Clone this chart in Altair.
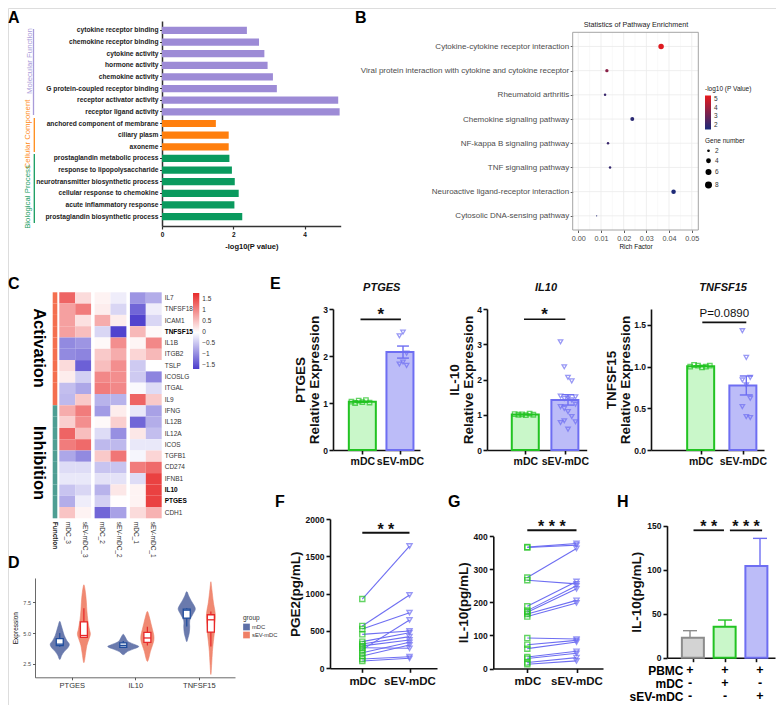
import json
import altair as alt
import pandas as pd

FONT = "Liberation Sans"
O = 8
W, H = 768, 697

# ---------------- data ----------------
# A: GO enrichment
go_terms = ["cytokine receptor binding", "chemokine receptor binding", "cytokine activity",
            "hormone activity", "chemokine activity", "G protein-coupled receptor binding",
            "receptor activator activity", "receptor ligand activity",
            "anchored component of membrane", "ciliary plasm", "axoneme",
            "prostaglandin metabolic process", "response to lipopolysaccharide",
            "neurotransmitter biosynthetic process", "cellular response to chemokine",
            "acute inflammatory response", "prostaglandin biosynthetic process"]
go_values = [2.38, 2.72, 2.87, 2.96, 3.11, 3.22, 4.94, 4.98,
             1.51, 1.87, 1.87,
             1.89, 1.96, 2.04, 2.15, 2.03, 2.25]
go_groups = ["Molecular Function"] * 8 + ["Cellular Component"] * 3 + ["Biological Process"] * 6
go_group_names = ["Molecular Function", "Cellular Component", "Biological Process"]
go_group_colors = ["#9d8bd6", "#ff7f0e", "#0a9a5e"]

# B: KEGG enrichment
kegg_terms = ["Cytokine-cytokine receptor interaction",
              "Viral protein interaction with cytokine and cytokine receptor",
              "Rheumatoid arthritis", "Chemokine signaling pathway",
              "NF-kappa B signaling pathway", "TNF signaling pathway",
              "Neuroactive ligand-receptor interaction", "Cytosolic DNA-sensing pathway"]
kegg_rich = [0.0365, 0.0126, 0.0118, 0.0238, 0.0131, 0.0140, 0.0420, 0.0081]
kegg_logp = [5.2, 3.6, 2.1, 1.8, 2.1, 2.0, 1.6, 1.7]
kegg_genes = [8, 4, 3, 5, 3, 3, 6, 2]
kegg_xticks = [0.0, 0.01, 0.02, 0.03, 0.04, 0.05]
kegg_xminor = [0.005, 0.015, 0.025, 0.035, 0.045]

# C: heatmap
heat_genes = ["IL7", "TNFSF18", "ICAM1", "TNFSF15", "IL1B", "ITGB2", "TSLP", "ICOSLG", "ITGAL", "IL9",
              "IFNG", "IL12B", "IL12A", "ICOS", "TGFB1", "CD274", "IFNB1", "IL10", "PTGES", "CDH1"]
heat_samples = ["mDC_3", "sEV-mDC_3", "mDC_2", "sEV-mDC_2", "mDC_1", "sEV-mDC_1"]
heat_values = [
    [1.3, 0.3, 0.1, -0.15, -0.9, -0.7],
    [0.8, 1.1, 0.15, -0.35, -1.3, -0.15],
    [0.8, 0.25, 0.7, 0.15, -1.6, -0.35],
    [0.8, 0.55, -0.35, -1.6, 0.6, 0.05],
    [-1.0, -0.9, 0.05, 0.95, 0.08, 1.0],
    [-1.0, -1.05, 0.45, 0.7, 0.35, 0.6],
    [0.3, -1.35, 0.55, 0.95, -0.45, 0.0],
    [0.15, -0.4, 1.0, 0.95, -0.45, -1.05],
    [-0.55, -0.75, 1.1, 1.0, -0.05, -0.3],
    [-0.6, 0.45, -0.65, -0.65, 1.3, 0.45],
    [0.7, 1.1, -0.85, 0.15, -0.2, -0.8],
    [0.4, 0.95, 0.05, 0.4, -1.3, -0.7],
    [1.3, 0.55, -0.3, -0.95, 0.2, -0.55],
    [1.1, 1.25, -0.6, -0.6, -0.2, -0.2],
    [-0.75, -1.0, 0.45, 1.15, -0.08, 0.35],
    [-0.3, -0.3, -0.5, -0.5, 1.1, 1.25],
    [-0.2, -0.2, -0.25, -0.25, -0.3, 1.6],
    [-0.5, -0.35, -0.65, 0.2, 0.1, 1.6],
    [-0.7, -0.15, -0.4, 0.02, 0.1, 1.6],
    [0.5, 0.1, -1.3, -0.8, 0.3, 0.65],
]
heat_function = ["Activation"] * 10 + ["Inhibition"] * 10
heat_bold = ["TNFSF15", "IL10", "PTGES"]
heat_legend_ticks = [-1.5, -1, -0.5, 0, 0.5, 1, 1.5]

# D: violins (outline: expression value, half width in category units)
violin_genes = ["PTGES", "IL10", "TNFSF15"]
violin_groups = ["mDC", "sEV-mDC"]
violin_y = {
    ("PTGES", "mDC"): [5.95, 5.6, 5.2, 4.8, 4.4, 4.1, 3.8, 3.5, 3.2, 2.85],
    ("PTGES", "sEV-mDC"): [8.9, 8.3, 7.5, 6.8, 6.0, 5.3, 4.9, 4.5, 4.0, 3.4, 2.6],
    ("IL10", "mDC"): [4.9, 4.6, 4.3, 4.05, 3.9, 3.7, 3.5, 3.25],
    ("IL10", "sEV-mDC"): [6.75, 6.3, 5.8, 5.3, 4.8, 4.4, 4.0, 3.5, 3.0, 2.7],
    ("TNFSF15", "mDC"): [8.35, 8.0, 7.6, 7.2, 6.9, 6.5, 6.0, 5.5, 5.0, 4.6, 4.3],
    ("TNFSF15", "sEV-mDC"): [9.15, 8.5, 7.5, 6.8, 6.3, 5.7, 5.0, 4.3, 3.5, 2.5, 1.65],
}
violin_w = {
    ("PTGES", "mDC"): [0, .024, .047, .071, .110, .150, .126, .071, .031, 0],
    ("PTGES", "sEV-mDC"): [0, .024, .039, .047, .063, .087, .102, .079, .047, .028, 0],
    ("IL10", "mDC"): [0, .039, .079, .189, .244, .157, .063, 0],
    ("IL10", "sEV-mDC"): [0, .031, .055, .079, .102, .102, .079, .047, .024, 0],
    ("TNFSF15", "mDC"): [0, .031, .071, .118, .134, .094, .047, .047, .039, .019, 0],
    ("TNFSF15", "sEV-mDC"): [0, .016, .039, .063, .071, .063, .055, .039, .024, .013, 0],
}
box_gene = ["PTGES", "PTGES", "IL10", "IL10", "TNFSF15", "TNFSF15"]
box_group = ["mDC", "sEV-mDC"] * 3
box_q1 = [3.98, 4.65, 3.85, 4.25, 6.21, 5.08]
box_med = [4.10, 4.80, 4.00, 4.60, 6.85, 6.07]
box_q3 = [4.54, 5.90, 4.20, 5.05, 6.94, 6.48]
box_lo = [3.90, 4.60, 3.80, 4.00, 5.53, 3.92]
box_hi = [5.00, 7.00, 4.35, 5.50, 7.00, 6.74]

# E: qPCR relative expression
E_PTGES_mDC = [1.03, 1.00, 1.05, 1.02, 1.06, 1.01]
E_PTGES_sEV = [2.43, 2.51, 2.06, 1.83, 1.87, 1.80]
E_IL10_mDC = [1.02, 1.00, 1.01, 0.99, 1.03, 1.00]
E_IL10_sEV = [3.07, 2.36, 2.06, 1.96, 1.51, 1.53, 1.46, 1.47, 1.42, 1.30, 1.23, 1.18,
              1.09, 0.95, 0.80, 0.78, 0.83, 0.59]
E_TNFSF15_mDC = [1.00, 1.02, 1.01, 0.99, 1.00, 1.01]
E_TNFSF15_sEV = [1.43, 1.11, 0.87, 0.84, 0.78, 0.62, 0.52, 0.40, 0.39]

# F: PGE2 paired
F_mDC = [928, 567, 527, 455, 357, 326, 300, 276, 250, 209, 165, 125, 98]
F_sEV = [1638, 982, 745, 500, 477, 424, 379, 268, 647, 348, 312, 155, 134]
# G: IL-10 paired
G_mDC = [367, 366, 275, 267, 188, 175, 170, 165, 157, 92, 72, 60, 35, 30, 18, 13]
G_sEV = [378, 373, 363, 256, 263, 250, 241, 206, 198, 89, 85, 80, 52, 46, 33, 23]
# H: co-culture
H_means = [22.7, 35.2, 104.2]
H_errors = [8.0, 7.6, 31.4]
H_table_rows = ["PBMC", "mDC", "sEV-mDC"]
H_table = [["+", "+", "+"], ["-", "+", "-"], ["-", "-", "+"]]

# ---------------- helpers ----------------
def rng(a, b):
    return [a - O, b - O]

def off_l(x):
    return -(x - O)

def off_b(y):
    return (y - O) - H

def off_r(x):
    return (x - O) - W

def pv(v):
    return v - O

def label(text, x, y, size, weight="normal", color="#000000", angle=0, align="center",
          baseline="middle", style="normal"):
    return alt.Chart(pd.DataFrame({"t": [text]})).mark_text(
        font=FONT, fontSize=size, fontWeight=weight, color=color, angle=angle,
        align=align, baseline=baseline, fontStyle=style,
    ).encode(x=alt.value(pv(x)), y=alt.value(pv(y)), text="t:N")

def vrule(x, y1, y2, color, width=1.5):
    return alt.Chart(pd.DataFrame({"a": [0]})).mark_rule(color=color, strokeWidth=width).encode(
        x=alt.value(pv(x)), y=alt.value(pv(y1)), y2=alt.value(pv(y2)))

def gp_axis(**kw):
    base = dict(domainColor="#111111", domainWidth=1.6, tickColor="#111111", tickWidth=1.6,
                tickSize=4, labelFont=FONT, labelFontWeight="bold", labelColor="#111111",
                titleFont=FONT, titleFontWeight="bold", titleColor="#111111", grid=False,
                labelOverlap=False, labelFlush=False)
    base.update(kw)
    return alt.Axis(**base)

def gg_axis(**kw):
    base = dict(domain=False, tickColor="#333333", tickWidth=0.8, tickSize=2.5, labelFont=FONT,
                labelColor="#4d4d4d", titleFont=FONT, titleFontWeight="normal", titleColor="#111111",
                grid=False, labelOverlap=False, labelFlush=False)
    base.update(kw)
    return alt.Axis(**base)

layers = []

# ---------------- panel letters ----------------
for letter, x, y in [("A", 8, 23), ("B", 355, 23), ("C", 8, 289), ("D", 8, 568),
                     ("E", 270, 289), ("F", 275, 507), ("G", 448, 507), ("H", 617, 507)]:
    layers.append(label(letter, x, y, 16, "bold", align="left", baseline="alphabetic"))

# ---------------- A ----------------
dfA = pd.DataFrame({"term": go_terms, "value": go_values, "group": go_groups})
sxA = alt.Scale(domain=[0, 5.01], range=rng(162, 340.7), nice=False)
syA = alt.Scale(domain=go_terms, range=rng(21, 226), paddingInner=0.38, paddingOuter=0.5)
layers.append(alt.Chart(dfA).mark_bar().encode(
    x=alt.X("value:Q", scale=sxA, axis=gp_axis(orient="bottom", offset=off_b(226), values=[0, 2, 4],
                                                title="-log10(P value)", labelFontSize=6.5,
                                                titleFontSize=7.5, tickSize=3, domainWidth=1.5,
                                                tickWidth=1.2, titlePadding=5, labelPadding=2,
                                                domainColor="#333333", tickColor="#333333")),
    y=alt.Y("term:N", sort=None, scale=syA,
            axis=gp_axis(orient="left", offset=off_l(162), title=None, labelFontSize=6.7, tickSize=2.5,
                         domainWidth=1.5, tickWidth=1, labelPadding=1.5, labelColor="#222222",
                         domainColor="#333333", tickColor="#333333")),
    color=alt.Color("group:N", scale=alt.Scale(domain=go_group_names, range=go_group_colors), legend=None),
))
layers.append(vrule(33.5, 29, 115, "#a99bd9", 1.3))
layers.append(vrule(34.3, 118, 152, "#ff8c1a", 1.3))
layers.append(vrule(34.3, 154, 223, "#169c5f", 1.3))
layers.append(label("Molecular Function", 29.5, 61, 7.8, color="#a99bd9", angle=270))
layers.append(label("Cellular Component", 28, 134, 7.8, color="#ff8c1a", angle=270))
layers.append(label("Biological Process", 28, 197, 7.8, color="#169c5f", angle=270))

# ---------------- B ----------------
nB = len(kegg_terms)
dfB = pd.DataFrame({"term": kegg_terms, "idx": list(range(nB)), "rich": kegg_rich,
                    "logp": kegg_logp, "genes": kegg_genes})
xB_dom = [-0.00247, 0.0529]
yB_dom = [-0.585, nB - 1 + 0.585]
sxB = alt.Scale(domain=xB_dom, range=rng(572.7, 698.3), nice=False, zero=False)
syB = alt.Scale(domain=yB_dom, range=rng(32.3, 230), nice=False, zero=False)
exprB = "[" + ",".join("'%s'" % t for t in kegg_terms) + "][datum.value]"

layers.append(alt.Chart(pd.DataFrame({"v": kegg_xminor})).mark_rule(color="#f2f2f2", strokeWidth=0.5).encode(
    x=alt.X("v:Q", scale=sxB, axis=None),
    y=alt.YDatum(yB_dom[0], type="quantitative", scale=syB, axis=None),
    y2=alt.Y2Datum(yB_dom[1])))
layers.append(alt.Chart(pd.DataFrame({"v": kegg_xticks})).mark_rule(color="#ebebeb", strokeWidth=0.8).encode(
    x=alt.X("v:Q", scale=sxB, axis=None),
    y=alt.YDatum(yB_dom[0], type="quantitative", scale=syB, axis=None),
    y2=alt.Y2Datum(yB_dom[1])))
layers.append(alt.Chart(pd.DataFrame({"v": list(range(nB))})).mark_rule(color="#ebebeb", strokeWidth=0.8).encode(
    y=alt.Y("v:Q", scale=syB, axis=None),
    x=alt.XDatum(xB_dom[0], type="quantitative", scale=sxB, axis=None),
    x2=alt.X2Datum(xB_dom[1])))
layers.append(alt.Chart(pd.DataFrame({"a": [0]})).mark_rect(fillOpacity=0, stroke="#9a9a9a", strokeWidth=0.9).encode(
    x=alt.XDatum(xB_dom[0], type="quantitative", scale=sxB, axis=None),
    x2=alt.X2Datum(xB_dom[1]),
    y=alt.YDatum(yB_dom[0], type="quantitative", scale=syB, axis=None),
    y2=alt.Y2Datum(yB_dom[1])))
layers.append(alt.Chart(dfB).mark_circle(opacity=1).encode(
    x=alt.X("rich:Q", scale=sxB, axis=gg_axis(orient="bottom", offset=off_b(230), values=kegg_xticks,
                                              format=".2f", title="Rich Factor", labelFontSize=7.2,
                                              titleFontSize=6.5, titlePadding=2, labelPadding=1.5)),
    y=alt.Y("idx:Q", scale=syB, axis=gg_axis(orient="left", offset=off_l(572.7), values=list(range(nB)),
                                             labelExpr=exprB, title=None, labelFontSize=8,
                                             labelPadding=1.5, labelLimit=400)),
    color=alt.Color("logp:Q", scale=alt.Scale(domain=[1.52, 5.38], range=["#1b2a7a", "#e8191c"],
                                              interpolate="rgb"),
                    legend=alt.Legend(title="-log10 (P Value)", orient="none", legendX=pv(705),
                                      legendY=pv(86), direction="vertical", gradientLength=34,
                                      gradientThickness=6, values=[2, 3, 4, 5], titleFont=FONT,
                                      labelFont=FONT, titleFontSize=6.5, labelFontSize=6.5,
                                      titleFontWeight="normal", titleColor="#222222",
                                      labelColor="#333333", titlePadding=3, labelOffset=3,
                                      gradientStrokeWidth=0)),
    size=alt.Size("genes:Q", scale=alt.Scale(domain=[2, 8], range=[1.5, 30], zero=False),
                  legend=alt.Legend(title="Gene number", orient="none", legendX=pv(705), legendY=pv(138),
                                    values=[2, 4, 6, 8], symbolFillColor="black", symbolStrokeColor="black",
                                    symbolType="circle", titleFont=FONT, labelFont=FONT, titleFontSize=6.5,
                                    labelFontSize=6.5, titleFontWeight="normal", titleColor="#222222",
                                    labelColor="#333333", rowPadding=1, titlePadding=3, labelOffset=3)),
))
layers.append(label("Statistics of Pathway Enrichment", 636, 25, 7.2, color="#222222"))

# ---------------- C ----------------
rowsC = []
for gi, g in enumerate(heat_genes):
    for si, s in enumerate(heat_samples):
        cond, pair = s.rsplit("_", 1)
        rowsC.append({"gene": g, "sample": s, "pair": pair, "cond": cond, "z": heat_values[gi][si]})
dfC = pd.DataFrame(rowsC)
syC = alt.Scale(domain=heat_genes, range=rng(292.3, 518.3), paddingInner=0, paddingOuter=0)
bold_test = "indexof(%s, datum.value) >= 0" % json.dumps(heat_bold)
layers.append(alt.Chart(dfC).mark_rect().encode(
    x=alt.X("pair:N", sort=None, scale=alt.Scale(domain=["3", "2", "1"], range=rng(59.3, 161.7),
                                                 paddingInner=0.1, paddingOuter=0), axis=None),
    xOffset=alt.XOffset("cond:N", sort=None, scale=alt.Scale(domain=["mDC", "sEV-mDC"],
                                                             paddingInner=0, paddingOuter=0)),
    y=alt.Y("gene:N", sort=None, scale=syC,
            axis=alt.Axis(orient="right", offset=off_r(161.7), domain=False, ticks=False, title=None,
                          labelFont=FONT, labelFontSize=6.5, labelPadding=2.5,
                          labelFontWeight={"condition": {"test": bold_test, "value": "bold"}, "value": "normal"},
                          labelColor={"condition": {"test": bold_test, "value": "#000000"}, "value": "#333333"})),
    color=alt.Color("z:Q", scale=alt.Scale(domain=[-1.66, 0, 1.79], range=["#4a3ccc", "#ffffff", "#e82a2a"],
                                           interpolate="rgb"),
                    legend=alt.Legend(title=None, orient="none", legendX=pv(193), legendY=pv(293),
                                      direction="vertical", gradientLength=76, gradientThickness=6.3,
                                      values=heat_legend_ticks, labelFont=FONT, labelFontSize=6.5,
                                      labelColor="#333333", labelOffset=3, gradientStrokeWidth=0,
                                      labelExpr="datum.value < 0 ? '\u2212' + format(-datum.value, '~g') : format(datum.value, '~g')")),
))
layers.append(alt.Chart(pd.DataFrame({"s": heat_samples})).mark_rule(opacity=0).encode(
    x=alt.X("s:N", sort=None, scale=alt.Scale(domain=heat_samples, range=rng(59.3, 161.7),
                                              paddingInner=0, paddingOuter=0),
            axis=alt.Axis(orient="bottom", offset=off_b(518.3), labelAngle=90, domain=False, ticks=False,
                          title=None, labelFont=FONT, labelFontSize=6.5, labelColor="#333333",
                          labelPadding=3))))
layers.append(alt.Chart(pd.DataFrame({"gene": heat_genes, "fn": heat_function,
                                      "col": ["Function"] * len(heat_genes)})).mark_rect().encode(
    x=alt.X("col:N", scale=alt.Scale(domain=["Function"], range=rng(52.7, 57.3), paddingInner=0,
                                     paddingOuter=0),
            axis=alt.Axis(orient="bottom", offset=off_b(518.3), labelAngle=90, domain=False, ticks=False,
                          title=None, labelFont=FONT, labelFontSize=6.5, labelColor="#222222",
                          labelFontWeight="bold", labelPadding=3)),
    y=alt.Y("gene:N", sort=None, scale=syC, axis=None),
    color=alt.Color("fn:N", scale=alt.Scale(domain=["Activation", "Inhibition"],
                                            range=["#f46f4f", "#4e9e93"]), legend=None),
))
layers.append(label("Activation", 39, 348, 16.5, "bold", angle=90))
layers.append(label("Inhibition", 39, 463, 16.5, "bold", angle=90))

# ---------------- D ----------------
# outline polygon: left side top->bottom, then right side bottom->top (tips shared)
rowsD = []
for (g, grp), ys in violin_y.items():
    ws = violin_w[(g, grp)]
    n = len(ys)
    for i in range(n):
        rowsD.append({"vid": g + "|" + grp, "gene": g, "group": grp, "y": ys[i], "w": ws[i],
                      "side": -1, "ord": i})
    for i in range(n - 2, 0, -1):
        rowsD.append({"vid": g + "|" + grp, "gene": g, "group": grp, "y": ys[i], "w": ws[i],
                      "side": 1, "ord": n + (n - 2 - i)})
dfD = pd.DataFrame(rowsD)
dfBox = pd.DataFrame({"gene": box_gene, "group": box_group, "q1": box_q1, "med": box_med,
                      "q3": box_q3, "lo": box_lo, "hi": box_hi})
D_x0, D_x1 = 35, 235
D_dom = [0.42, 3.57]
sxD = alt.Scale(domain=D_dom, range=rng(D_x0, D_x1), nice=False, zero=False)
syD = alt.Scale(domain=[1.42, 9.45], range=rng(677.3, 578), nice=False, zero=False)
center_expr = "indexof(%s, datum.gene) + 1 + (datum.group == 'mDC' ? -0.19 : 0.19)" % json.dumps(violin_genes)
exprD = "%s[datum.value - 1]" % json.dumps(violin_genes)
vio_fill = alt.Fill("group:N", scale=alt.Scale(domain=violin_groups, range=["#5d6fa6", "#ef7f66"]),
                    legend=alt.Legend(title="group", orient="none", legendX=pv(243), legendY=pv(615),
                                      symbolType="square", symbolSize=45, titleFont=FONT, labelFont=FONT,
                                      titleFontSize=6.5, labelFontSize=5.8, titleFontWeight="normal",
                                      titleColor="#333333", labelColor="#333333", rowPadding=1,
                                      titlePadding=2, labelOffset=2, symbolStrokeWidth=0))
vio_stroke = alt.Stroke("group:N", scale=alt.Scale(domain=violin_groups, range=["#5d6fa6", "#ef7f66"]),
                        legend=None)
layers.append(alt.Chart(dfD).transform_calculate(center=center_expr).transform_calculate(
    xv="datum.center + datum.side * datum.w").mark_line(
    interpolate="cardinal-closed", strokeWidth=0.6, fillOpacity=0.92, strokeOpacity=0.92).encode(
    y=alt.Y("y:Q", scale=syD, axis=gg_axis(orient="left", offset=off_l(D_x0), values=[2.5, 5.0, 7.5],
                                           format=".1f", title="Expression", labelFontSize=5.5,
                                           titleFontSize=6.5, domain=True, domainColor="#444444",
                                           domainWidth=0.8, titlePadding=4)),
    x=alt.X("xv:Q", scale=sxD, axis=gg_axis(orient="bottom", offset=off_b(677.3), values=[1, 2, 3],
                                            labelExpr=exprD, title=None, labelFontSize=7.5,
                                            labelColor="#333333", domain=True, domainColor="#444444",
                                            domainWidth=0.8)),
    order=alt.Order("ord:Q"),
    detail="vid:N",
    fill=vio_fill,
    stroke=vio_stroke,
))
box_base = alt.Chart(dfBox).transform_calculate(center=center_expr).transform_calculate(
    bl="datum.center - 0.055", br="datum.center + 0.055")
box_stroke = alt.Stroke("group:N", scale=alt.Scale(domain=violin_groups, range=["#1f4c9c", "#e8282a"]),
                        legend=None)
layers.append(box_base.mark_rule(strokeWidth=1.2).encode(
    x=alt.X("center:Q", scale=sxD, axis=None), y=alt.Y("hi:Q", scale=syD, axis=None), y2="q3:Q",
    stroke=box_stroke))
layers.append(box_base.mark_rule(strokeWidth=1.2).encode(
    x=alt.X("center:Q", scale=sxD, axis=None), y=alt.Y("lo:Q", scale=syD, axis=None), y2="q1:Q",
    stroke=box_stroke))
layers.append(box_base.mark_rect(fill="white", strokeWidth=1.3).encode(
    x=alt.X("bl:Q", scale=sxD, axis=None), x2="br:Q",
    y=alt.Y("q1:Q", scale=syD, axis=None), y2="q3:Q", stroke=box_stroke))
layers.append(box_base.mark_rule(strokeWidth=1.3).encode(
    x=alt.X("bl:Q", scale=sxD, axis=None), x2="br:Q",
    y=alt.Y("med:Q", scale=syD, axis=None), stroke=box_stroke))

# ---------------- E ----------------
GREEN_FILL, GREEN = "#c9f7c9", "#22c322"
PURP_FILL, PURP = "#bcbcf8", "#6e6ef2"
cond_names = ["mDC", "sEV-mDC"]
xlab_expr = "datum.value == 0 ? 'mDC' : 'sEV-mDC'"

def e_panel(mdc, sev, ax, c0, c1, xend, ymax, yvals, yfmt, ytitle, title, sig_y, sig_x1, sig_x2, sig_text,
            sig_size, sig_weight, k_sev):
    df = pd.DataFrame({"c": [0] * len(mdc) + [1] * len(sev),
                       "g": ["mDC"] * len(mdc) + ["sEV-mDC"] * len(sev),
                       "v": mdc + sev})
    step = c1 - c0
    sx = alt.Scale(domain=[(ax - c0) / step, (xend - c0) / step], range=rng(ax, xend), nice=False, zero=False)
    sy = alt.Scale(domain=[0, ymax], range=rng(450, 309), nice=False)
    fill = alt.Fill("g:N", scale=alt.Scale(domain=cond_names, range=[GREEN_FILL, PURP_FILL]), legend=None)
    strk = alt.Stroke("g:N", scale=alt.Scale(domain=cond_names, range=[GREEN, PURP]), legend=None)
    out = []
    out.append(alt.Chart(df).mark_bar(size=27, strokeWidth=2).encode(
        x=alt.X("c:Q", scale=sx, axis=gp_axis(orient="bottom", offset=off_b(450), values=[0, 1],
                                              labelExpr=xlab_expr, labelFontSize=10.5, title=None,
                                              labelPadding=2)),
        y=alt.Y("mean(v):Q", scale=sy, axis=gp_axis(orient="left", offset=off_l(ax), values=yvals,
                                                    format=yfmt, labelFontSize=8.5, title=ytitle,
                                                    titleFontSize=13.5, titleLineHeight=14,
                                                    titlePadding=1.5, labelPadding=1.5)),
        fill=fill, stroke=strk))
    agg = alt.Chart(df).transform_aggregate(m="mean(v)", se="stderr(v)", groupby=["c", "g"]).transform_calculate(
        lo="datum.m - datum.se", hi="datum.m + datum.se", xl="datum.c - 0.14", xr="datum.c + 0.14")
    out.append(agg.mark_rule(strokeWidth=1.4).encode(
        x=alt.X("c:Q", scale=sx, axis=None), y=alt.Y("lo:Q", scale=sy, axis=None), y2="hi:Q", stroke=strk))
    out.append(agg.mark_rule(strokeWidth=1.4).encode(
        x=alt.X("xl:Q", scale=sx, axis=None), x2="xr:Q", y=alt.Y("hi:Q", scale=sy, axis=None), stroke=strk))
    out.append(agg.mark_rule(strokeWidth=1.4).encode(
        x=alt.X("xl:Q", scale=sx, axis=None), x2="xr:Q", y=alt.Y("lo:Q", scale=sy, axis=None), stroke=strk))
    pts = alt.Chart(df).transform_window(rn="row_number()", groupby=["g"]).transform_calculate(
        k="datum.c == 0 ? 6 : %d" % k_sev).transform_calculate(
        xo="datum.c + ((datum.rn - 1) % datum.k - (datum.k - 1) / 2) * 0.085")
    out.append(pts.mark_point(filled=False, size=20, strokeWidth=1.3).encode(
        x=alt.X("xo:Q", scale=sx, axis=None), y=alt.Y("v:Q", scale=sy, axis=None),
        shape=alt.Shape("g:N", scale=alt.Scale(domain=cond_names, range=["square", "triangle-down"]),
                        legend=None),
        stroke=strk))
    sig = pd.DataFrame({"x1": [sig_x1], "x2": [sig_x2], "y": [sig_y], "xm": [(sig_x1 + sig_x2) / 2],
                        "t": [sig_text], "title": [title]})
    is_p = sig_text.startswith("P")
    out.append(alt.Chart(sig).mark_rule(color="#111111", strokeWidth=1.6).encode(
        x=alt.X("x1:Q", scale=sx, axis=None), x2="x2:Q", y=alt.Y("y:Q", scale=sy, axis=None)))
    out.append(alt.Chart(sig).mark_text(font=FONT, fontSize=sig_size, fontWeight=sig_weight, color="#111111",
                                        baseline="alphabetic", dy=(-5 if is_p else 1)).encode(
        x=alt.X("xm:Q", scale=sx, axis=None), y=alt.Y("y:Q", scale=sy, axis=None), text="t:N"))
    out.append(alt.Chart(sig).mark_text(font=FONT, fontSize=11, fontWeight="bold", fontStyle="italic",
                                        color="#111111").encode(
        x=alt.XDatum(0.5, type="quantitative", scale=sx, axis=None), y=alt.value(pv(288)), text="title:N"))
    return out

layers += e_panel(E_PTGES_mDC, E_PTGES_sEV, 333, 360.5, 403, 420, 3, [0, 1, 2, 3], "d",
                  ["PTGES", "Relative Expression"], "PTGES", 2.78, 0.0, 0.95, "*", 17, "bold", 3)
layers += e_panel(E_IL10_mDC, E_IL10_sEV, 487, 524, 568, 586.7, 4, [0, 1, 2, 3, 4], "d",
                  ["IL-10", "Relative Expression"], "IL10", 3.71, 0.0, 0.94, "*", 17, "bold", 5)
layers += e_panel(E_TNFSF15_mDC, E_TNFSF15_sEV, 651, 700, 746.3, 764, 1.69, [0, 0.5, 1.0, 1.5], ".1f",
                  ["TNFSF15", "Relative Expression"], "TNFSF15", 1.53, 0.05, 1.0, "P=0.0890", 11.5, "normal", 3)

# ---------------- F & G ----------------
def paired_panel(mdc, sev, ax, c0, c1, xend, y0, ytop, ymax, yvals, ytitle, sig_y, sig_x2, sig_text):
    n = len(mdc)
    df = pd.DataFrame({"pair": list(range(n)) * 2, "c": [0] * n + [1] * n,
                       "g": ["mDC"] * n + ["sEV-mDC"] * n, "v": mdc + sev})
    step = c1 - c0
    sx = alt.Scale(domain=[(ax - c0) / step, (xend - c0) / step], range=rng(ax, xend), nice=False, zero=False)
    sy = alt.Scale(domain=[0, ymax], range=rng(y0, ytop), nice=False)
    out = []
    out.append(alt.Chart(df).mark_line(color="#6e6ef2", strokeWidth=1.1).encode(
        x=alt.X("c:Q", scale=sx, axis=gp_axis(orient="bottom", offset=off_b(y0), values=[0, 1],
                                              labelExpr=xlab_expr, labelFontSize=11.5, title=None,
                                              labelPadding=3)),
        y=alt.Y("v:Q", scale=sy, axis=gp_axis(orient="left", offset=off_l(ax), values=yvals, format="d",
                                              labelFontSize=8.5, title=ytitle, titleFontSize=13.5,
                                              titlePadding=3, labelPadding=2)),
        detail="pair:N"))
    out.append(alt.Chart(df).mark_point(filled=False, size=26, strokeWidth=1.4).encode(
        x=alt.X("c:Q", scale=sx, axis=None), y=alt.Y("v:Q", scale=sy, axis=None),
        shape=alt.Shape("g:N", scale=alt.Scale(domain=cond_names, range=["square", "triangle-down"]),
                        legend=None),
        stroke=alt.Stroke("g:N", scale=alt.Scale(domain=cond_names, range=[GREEN, PURP]), legend=None)))
    sig = pd.DataFrame({"x1": [0.0], "x2": [sig_x2], "y": [sig_y], "xm": [sig_x2 / 2], "t": [sig_text]})
    out.append(alt.Chart(sig).mark_rule(color="#111111", strokeWidth=1.8).encode(
        x=alt.X("x1:Q", scale=sx, axis=None), x2="x2:Q", y=alt.Y("y:Q", scale=sy, axis=None)))
    out.append(alt.Chart(sig).mark_text(font=FONT, fontSize=16, fontWeight="bold", color="#111111",
                                        baseline="alphabetic", dy=2).encode(
        x=alt.X("xm:Q", scale=sx, axis=None), y=alt.Y("y:Q", scale=sy, axis=None), text="t:N"))
    return out

layers += paired_panel(F_mDC, F_sEV, 330, 362.3, 409.5, 437, 668.3, 519, 2000, [0, 500, 1000, 1500, 2000],
                       "PGE2(pg/mL)", 1816, 1.0, "* *")
layers += paired_panel(G_mDC, G_sEV, 493.3, 527.3, 576.5, 603, 668.5, 536.2, 400, [0, 100, 200, 300, 400],
                       "IL-10(pg/mL)", 418, 1.0, "* * *")

# ---------------- H ----------------
dfH = pd.DataFrame({"c": [0, 1, 2], "grp": ["PBMC", "PBMC+mDC", "PBMC+sEV-mDC"],
                    "m": H_means, "e": H_errors})
H_grp = ["PBMC", "PBMC+mDC", "PBMC+sEV-mDC"]
sxH = alt.Scale(domain=[(667 - 690) / 35.0, (775 - 690) / 35.0], range=rng(667, 775), nice=False, zero=False)
syH = alt.Scale(domain=[0, 150], range=rng(657.7, 525.7), nice=False)
h_fill = alt.Fill("grp:N", scale=alt.Scale(domain=H_grp, range=["#d3d3d3", GREEN_FILL, PURP_FILL]), legend=None)
h_strk = alt.Stroke("grp:N", scale=alt.Scale(domain=H_grp, range=["#8c8c8c", GREEN, PURP]), legend=None)
hb = alt.Chart(dfH).transform_calculate(hi="datum.m + datum.e", xl="datum.c - 0.2", xr="datum.c + 0.2")
layers.append(hb.mark_rule(strokeWidth=1.4).encode(
    x=alt.X("c:Q", scale=sxH, axis=None), y=alt.Y("m:Q", scale=syH, axis=None), y2="hi:Q", stroke=h_strk))
layers.append(hb.mark_rule(strokeWidth=1.4).encode(
    x=alt.X("xl:Q", scale=sxH, axis=None), x2="xr:Q", y=alt.Y("hi:Q", scale=syH, axis=None), stroke=h_strk))
layers.append(alt.Chart(dfH).mark_bar(size=22, strokeWidth=2).encode(
    x=alt.X("c:Q", scale=sxH, axis=gp_axis(orient="bottom", offset=off_b(657.7), values=[0, 1, 2],
                                           labels=False, title=None)),
    y=alt.Y("m:Q", scale=syH, axis=gp_axis(orient="left", offset=off_l(667), values=[0, 50, 100, 150],
                                           format="d", labelFontSize=8.5, title="IL-10(pg/mL)",
                                           titleFontSize=13.5, titlePadding=3, labelPadding=2)),
    fill=h_fill, stroke=h_strk))
sigH = pd.DataFrame({"x1": [0.1, 1.14], "x2": [0.97, 2.06], "y": [144.8, 144.8], "t": ["* *", "* * *"]})
layers.append(alt.Chart(sigH).mark_rule(color="#111111", strokeWidth=1.8).encode(
    x=alt.X("x1:Q", scale=sxH, axis=None), x2="x2:Q", y=alt.Y("y:Q", scale=syH, axis=None)))
layers.append(alt.Chart(sigH).transform_calculate(xm="(datum.x1 + datum.x2) / 2").mark_text(
    font=FONT, fontSize=16, fontWeight="bold", color="#111111", baseline="alphabetic", dy=2).encode(
    x=alt.X("xm:Q", scale=sxH, axis=None), y=alt.Y("y:Q", scale=syH, axis=None), text="t:N"))
rowsT = []
for ri, r in enumerate(H_table_rows):
    for ci in range(3):
        rowsT.append({"row": r, "c": ci, "sym": H_table[ri][ci]})
layers.append(alt.Chart(pd.DataFrame(rowsT)).mark_text(font=FONT, fontSize=12.5, fontWeight="bold",
                                                       color="#000000").encode(
    x=alt.X("c:Q", scale=sxH, axis=None),
    y=alt.Y("row:N", sort=None, scale=alt.Scale(type="point", domain=H_table_rows, range=rng(670, 696),
                                                padding=0),
            axis=alt.Axis(orient="left", offset=off_l(684), domain=False, ticks=False, title=None,
                          labelFont=FONT, labelFontSize=12, labelFontWeight="bold", labelColor="#000000",
                          labelPadding=1)),
    text="sym:N"))

# ---------------- assemble ----------------
chart = alt.layer(*layers).resolve_scale(
    x="independent", y="independent", color="independent", fill="independent", stroke="independent",
    shape="independent", size="independent", xOffset="independent"
).resolve_axis(x="independent", y="independent").resolve_legend(
    color="independent", size="independent", fill="independent", stroke="independent", shape="independent"
).properties(width=W, height=H, padding=0, autosize=alt.AutoSizeParams(type="none")).configure_view(
    stroke=None).configure(font=FONT, background="white")

chart.save("out.html", embed_options={"renderer": "svg", "actions": False})
